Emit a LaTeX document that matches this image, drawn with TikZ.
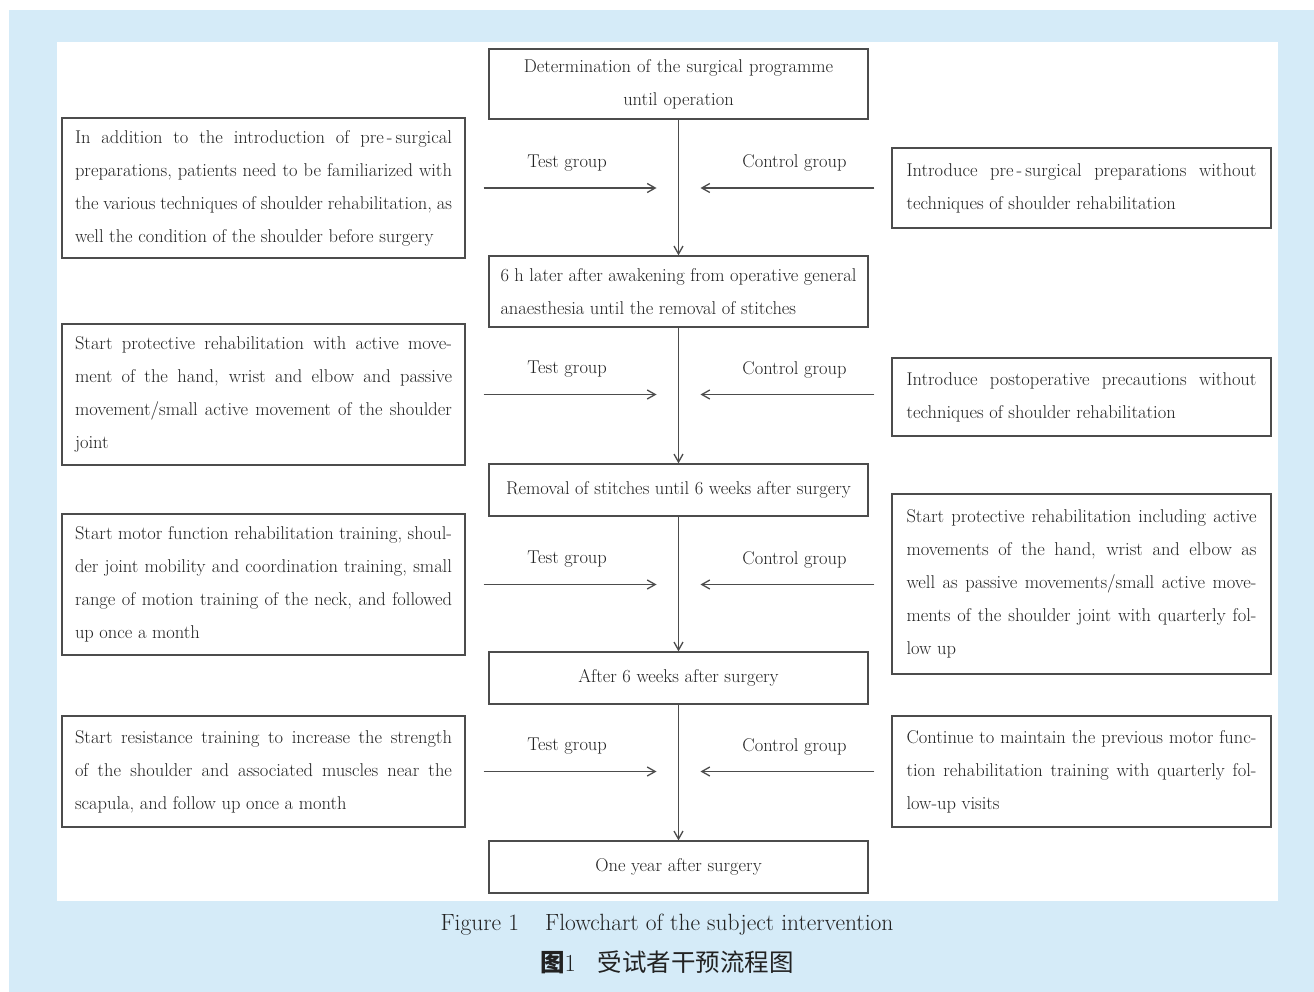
\documentclass[tikz,border=0pt]{standalone}
\usepackage{fontspec}
\newfontfamily\cjk{Noto Sans CJK SC}
\usetikzlibrary{
  arrows.meta,
  calc,
  positioning
}
\definecolor{pageblue}{HTML}{D5EBF8}
\definecolor{inkgray}{HTML}{222222}
\tikzset{
  stage/.style={draw=black!70,line width=1.3pt,minimum width=379pt,inner sep=0pt,
    text=inkgray,font=\fontsize{18.5}{33}\selectfont},
  testnote/.style={draw=black!70,line width=1.3pt,minimum width=403pt,inner sep=0pt,
    text width=377pt,align=justify,text=inkgray,font=\fontsize{18.5}{33}\selectfont,
    execute at begin node={\hyphenpenalty=10000\relax}},
  ctrlnote/.style={draw=black!70,line width=1.3pt,minimum width=379pt,inner sep=0pt,
    text width=350pt,align=justify,text=inkgray,font=\fontsize{18.5}{33}\selectfont,
    execute at begin node={\hyphenpenalty=10000\relax}},
  flow/.style={-{Straight Barb[length=8pt,width=9pt]},line width=1.3pt,draw=black!70},
  grouplabel/.style={text=inkgray,font=\fontsize{18.5}{22}\selectfont}
}

\begin{document}
\begin{tikzpicture}[x=1pt,y=-1pt]
  \useasboundingbox (0,0) rectangle (1314,992);
  \fill[pageblue] (9,10) rectangle (1314,992);
  \fill[white] (57,42) rectangle (1278,901);

  % stages along the time line
  \node[stage,minimum height=70pt,text width=360pt,align=center] at (678.5, 84) (S1)
  {Determination of the surgical programme\\until operation};
  \node[stage,minimum height=71pt,text width=356pt,align=justify] at (678.5, 291.5) (S2)
  {6 h later after awakening from operative general\linebreak anaesthesia until the removal of stitches};
  \node[stage,minimum height=52pt] at (678.5, 490) (S3)
  {Removal of stitches until 6 weeks after surgery};
  \node[stage,minimum height=52pt] at (678.5, 678) (S4) {After 6 weeks after surgery};
  \node[stage,minimum height=52pt] at (678.5, 867) (S5) {One year after surgery};

  % test group
  \node[testnote,minimum height=140pt] at (263.5, 188) (L1)
  {In addition to the introduction of pre\,-\,surgical\linebreak preparations, patients need to be familiarized with\linebreak the various techniques of shoulder rehabilitation, as\linebreak well the condition of the shoulder before surgery};
  \node[testnote,minimum height=141pt] at (263.5, 394.5) (L2)
  {Start protective rehabilitation with active move-\linebreak ment of the hand, wrist and elbow and passive\linebreak movement/small active movement of the shoulder\linebreak joint};
  \node[testnote,minimum height=141pt] at (263.5, 584.5) (L3)
  {Start motor function rehabilitation training, shoul-\linebreak der joint mobility and coordination training, small\linebreak range of motion training of the neck, and followed\linebreak up once a month};
  \node[testnote,minimum height=111pt] at (263.5, 771.5) (L4)
  {Start resistance training to increase the strength\linebreak of the shoulder and associated muscles near the\linebreak scapula, and follow up once a month};

  % control group
  \node[ctrlnote,minimum height=80pt] at (1081.5, 188) (R1)
  {Introduce pre\,-\,surgical preparations without\linebreak techniques of shoulder rehabilitation};
  \node[ctrlnote,minimum height=78pt] at (1081.5, 397) (R2)
  {Introduce postoperative precautions without\linebreak techniques of shoulder rehabilitation};
  \node[ctrlnote,minimum height=180pt] at (1081.5, 584) (R3)
  {Start protective rehabilitation including active\linebreak movements of the hand, wrist and elbow as\linebreak well as passive movements/small active move-\linebreak ments of the shoulder joint with quarterly fol-\linebreak low up};
  \node[ctrlnote,minimum height=111pt] at (1081.5, 771.5) (R4)
  {Continue to maintain the previous motor func-\linebreak tion rehabilitation training with quarterly fol-\linebreak low-up visits};

  \draw[flow] (S1) -- (S2);
  \draw[flow] (S2) -- (S3);
  \draw[flow] (S3) -- (S4);
  \draw[flow] (S4) -- (S5);

  \foreach \i in {1,...,4} {
    \draw[flow] ($(L\i.east) + (18, 0)$) -- ($(L\i.east -| S1.south) + (-22, 0)$)
      node[midway,xshift=-3pt,yshift=25pt,grouplabel] {Test group};
    \draw[flow] ($(R\i.west |- L\i.east) + (-17, 0)$) -- ($(L\i.east -| S1.south) + (22, 0)$)
      node[midway,xshift=7pt,yshift=25pt,grouplabel] {Control group};
  }

  \node[text=inkgray,font=\fontsize{23.5}{26}\selectfont] at (667, 925) (Caption)
  {Figure 1\hspace{26pt}Flowchart of the subject intervention};
  \node[text=inkgray,font=\fontsize{24.5}{26}\selectfont,below=37pt of Caption.center,anchor=center] (CaptionCN)
  {{\cjk\bfseries 图}1\hspace{22pt}{\cjk 受试者干预流程图}};
\end{tikzpicture}
\end{document}
